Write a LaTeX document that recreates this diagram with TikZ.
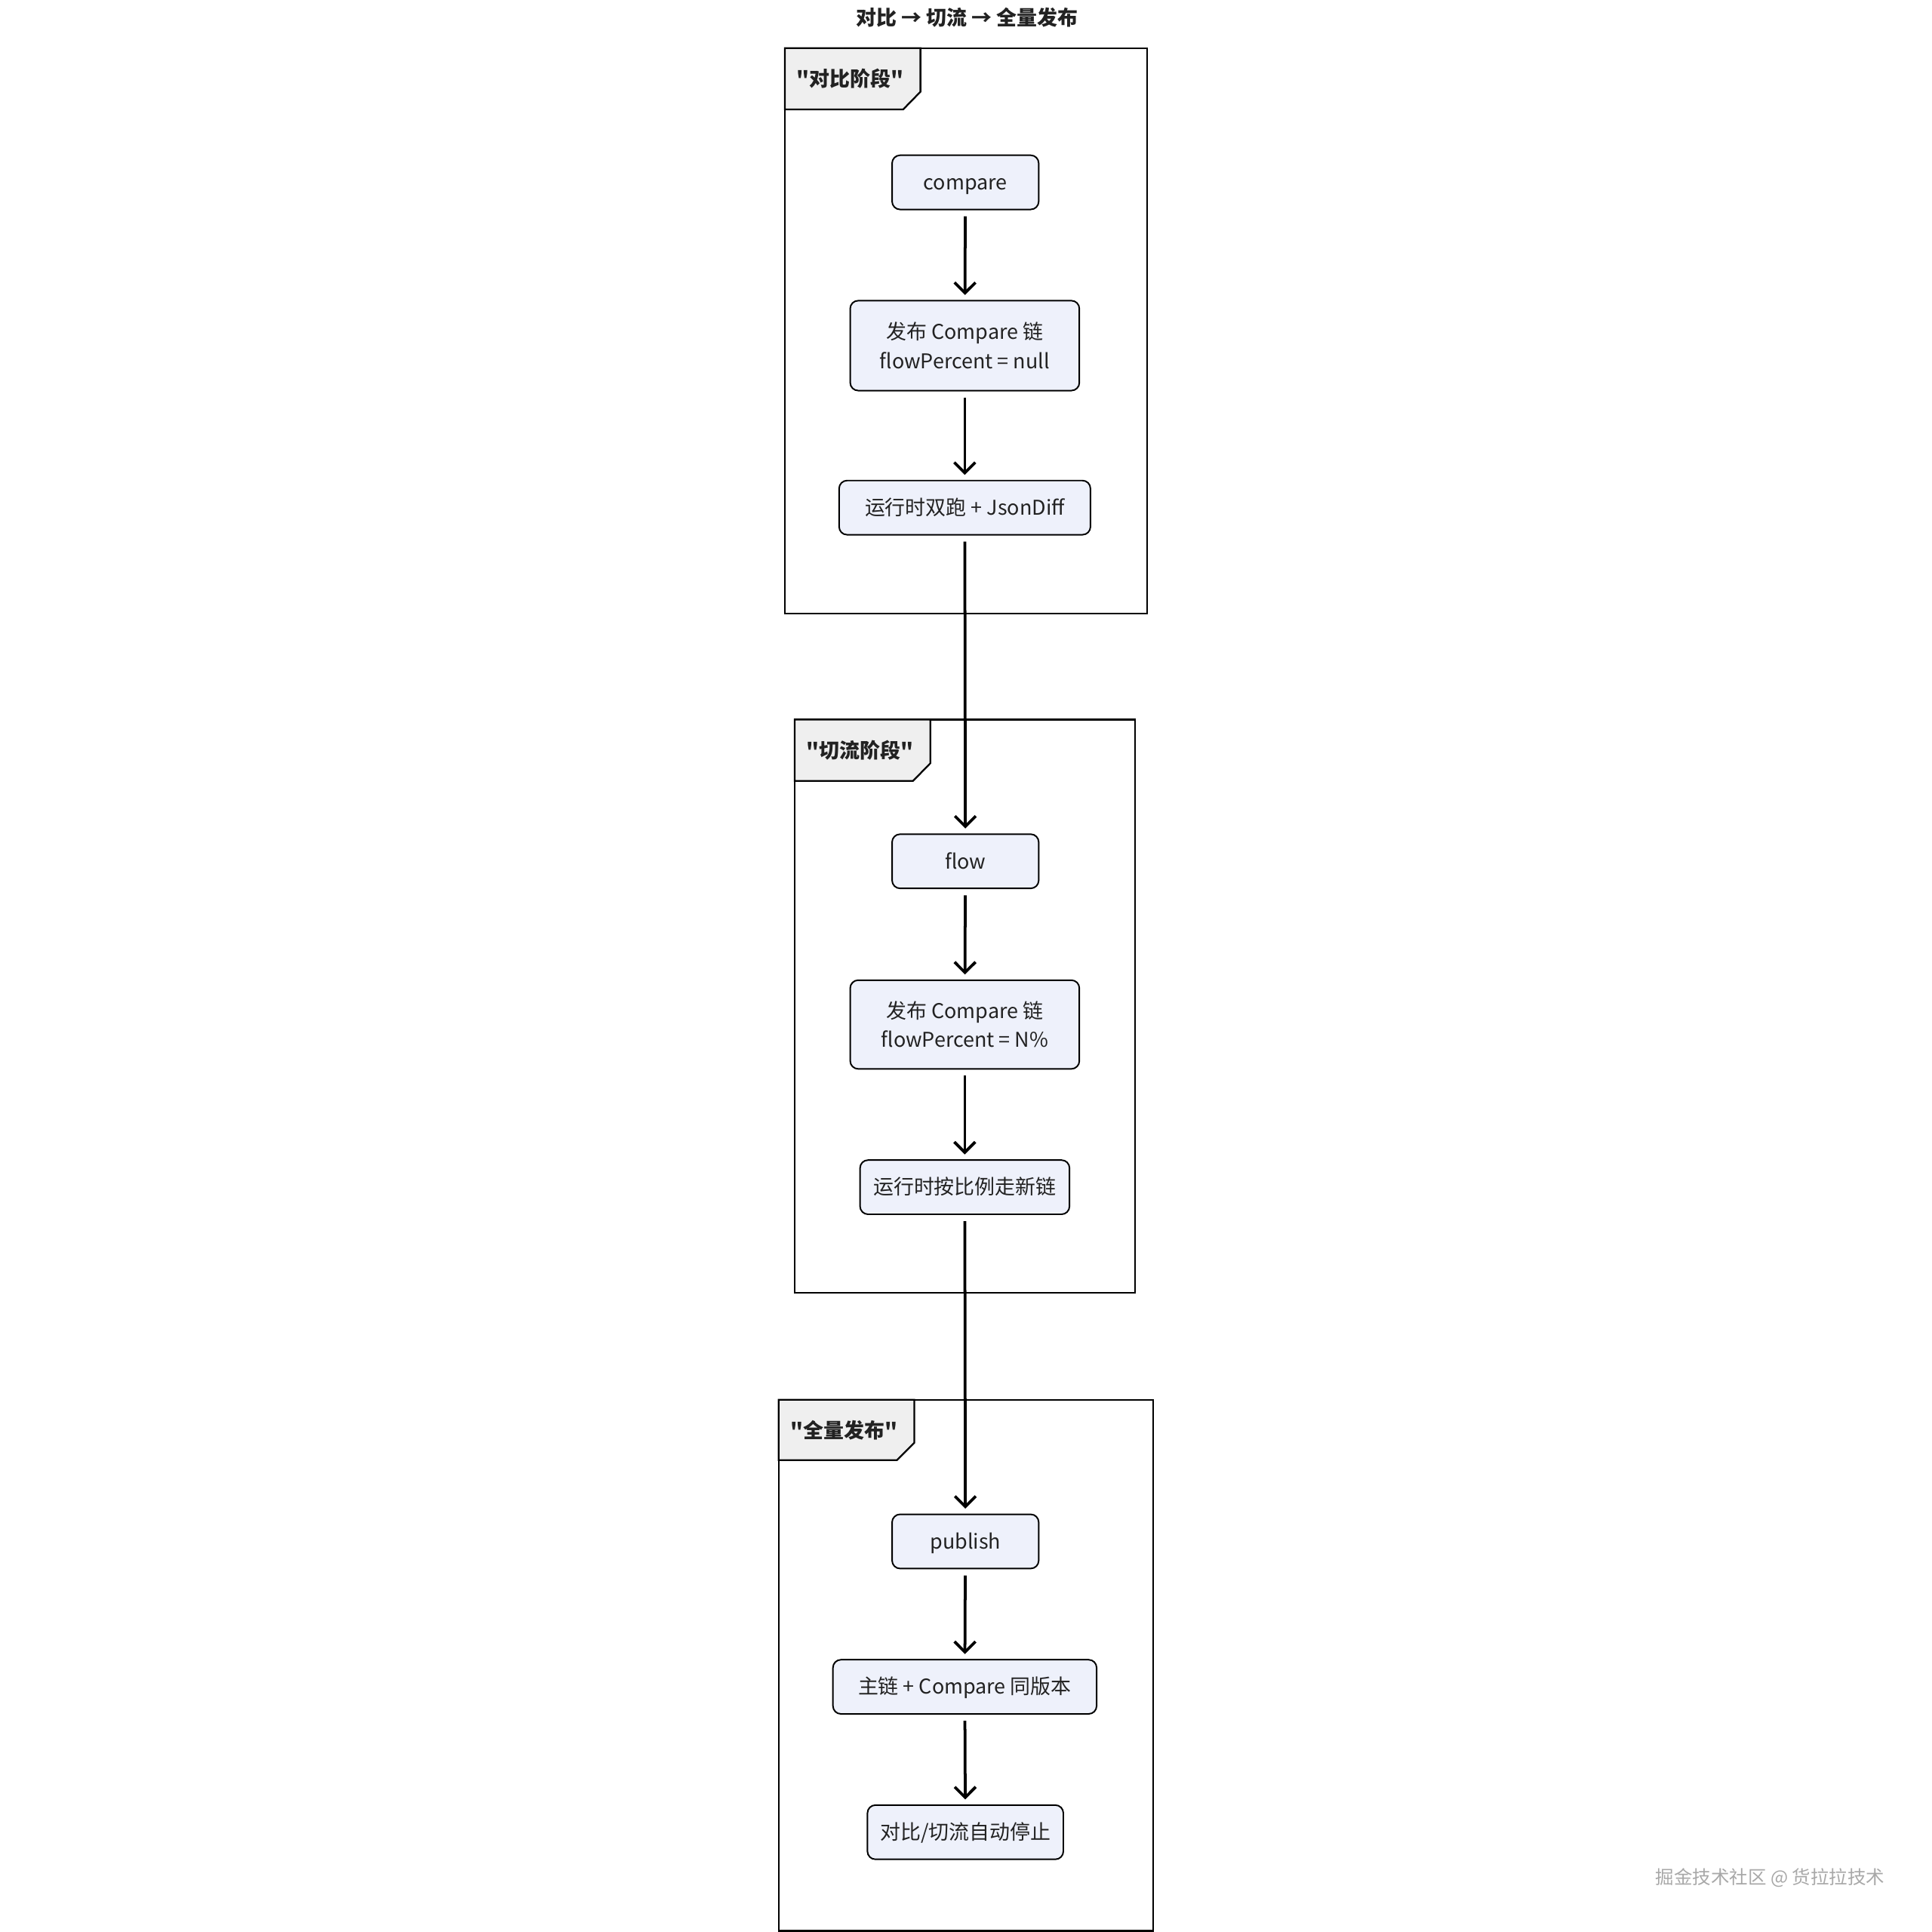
\documentclass[tikz,border=0pt]{standalone}
\usepackage{fontspec}
\setmainfont{Noto Sans CJK SC}[Ligatures=TeXOff]
\usetikzlibrary{arrows.meta}
\definecolor{nodefill}{HTML}{EEF1FB}
\definecolor{tabfill}{HTML}{EFEFEF}
\definecolor{ink}{HTML}{222222}
\definecolor{wmgray}{HTML}{A8A8A8}
\tikzset{
  boxbase/.style={draw=black, line width=1.2pt, fill=nodefill, rounded corners=6.5pt,
    minimum height=44pt, inner sep=0pt, align=center, text=ink,
    font=\fontsize{16.5}{23.5}\selectfont},
  box/.style={boxbase, text height=15.5pt, text depth=3.5pt},
  frame/.style={draw=black, line width=1.4pt},
  tab/.style={draw=black, line width=1.4pt, fill=tabfill},
  tablabel/.style={font=\fontsize{16.5}{20}\selectfont\bfseries, text=ink},
  flowarrow/.style={draw=black, line width=2.3pt,
    -{Straight Barb[length=8.5pt,width=17pt,line width=2.3pt]},
    shorten <=5pt, shorten >=4pt},
}
\begin{document}
\begin{tikzpicture}[x=1pt,y=-1pt]
\useasboundingbox (0,0) rectangle (1568,1568);

% title
\node[font=\fontsize{16.5}{20}\selectfont\bfseries, text=ink] (title) at (785,14) {对比 → 切流 → 全量发布};

% frame 1
\draw[frame] (637,39) rectangle (931,498);
\draw[tab] (637,39) -- (747,39) -- (747,74.5) -- (733,88.8) -- (637,88.8) -- cycle;
\node[tablabel] (lab1) at (690,64) {"对比阶段"};

% frame 2
\draw[frame] (645,584) rectangle (921,1049);
\draw[tab] (645,584) -- (755,584) -- (755,619.5) -- (741,633.8) -- (645,633.8) -- cycle;
\node[tablabel] (lab2) at (698,609) {"切流阶段"};

% frame 3
\draw[frame] (632,1136) rectangle (936,1567);
\draw[tab] (632,1136) -- (742,1136) -- (742,1171) -- (728,1185) -- (632,1185) -- cycle;
\node[tablabel] (lab3) at (685,1161) {"全量发布"};

% nodes
\node[box, minimum width=119pt] (compare) at (783.5,148) {compare};
\node[boxbase, minimum width=186pt, minimum height=73pt] (pub1) at (783,280.5) {发布 Compare 链\\flowPercent = null};
\node[box, minimum width=204pt] (run) at (783,412) {运行时双跑 + JsonDiff};

\node[box, minimum width=119pt] (flow) at (783.5,699) {flow};
\node[boxbase, minimum width=186pt, minimum height=72pt] (pub2) at (783,831.5) {发布 Compare 链\\flowPercent = N\%};
\node[box, minimum width=170pt] (ratio) at (783,963.5) {运行时按比例走新链};

\node[box, minimum width=119pt] (publish) at (783.5,1251) {publish};
\node[box, minimum width=214pt] (main) at (783,1369) {主链 + Compare 同版本};
\node[box, minimum width=159pt] (stop) at (783.5,1487) {对比/切流自动停止};

% connectors
\draw[flowarrow] (compare) -- (pub1);
\draw[flowarrow] (pub1) -- (run);
\draw[flowarrow] (run) -- (flow);
\draw[flowarrow] (flow) -- (pub2);
\draw[flowarrow] (pub2) -- (ratio);
\draw[flowarrow] (ratio) -- (publish);
\draw[flowarrow] (publish) -- (main);
\draw[flowarrow] (main) -- (stop);

% watermark
\node[anchor=east, font=\fontsize{15}{18}\selectfont, text=wmgray] (wm) at (1533,1524) {掘金技术社区 @ 货拉拉技术};
\end{tikzpicture}
\end{document}
